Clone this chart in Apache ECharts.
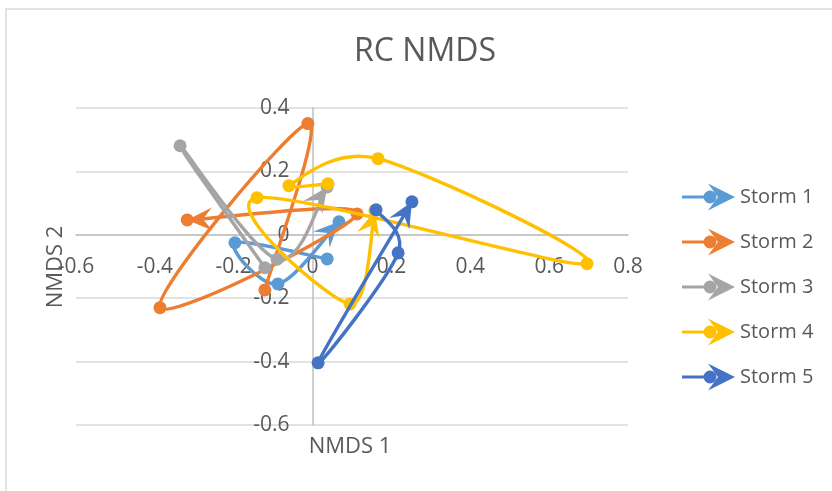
<!DOCTYPE html>
<html>
<head>
<meta charset="utf-8">
<title>RC NMDS</title>
<script src="https://cdn.jsdelivr.net/npm/echarts@6/dist/echarts.min.js"></script>
<style>
  html, body { margin: 0; padding: 0; background: #ffffff; }
  #chart { width: 832px; height: 491px; }
</style>
</head>
<body>
<div id="chart"></div>
<script>
// NMDS ordination scores per storm, [NMDS 1, NMDS 2], in sampling order
var storm1 = [[0.037, -0.076], [-0.197, -0.025], [-0.088, -0.155], [0.067, 0.041]];
var storm2 = [[-0.121, -0.174], [-0.012, 0.351], [-0.387, -0.230], [0.113, 0.066], [-0.318, 0.047]];
var storm3 = [[-0.121, -0.104], [-0.336, 0.281], [-0.090, -0.077], [0.037, 0.151]];
var storm4 = [[0.039, 0.161], [-0.060, 0.155], [0.166, 0.240], [0.696, -0.091], [-0.141, 0.117], [0.095, -0.218], [0.158, 0.076]];
var storm5 = [[0.161, 0.079], [0.217, -0.057], [0.014, -0.404], [0.252, 0.104]];

var seriesNames = ['Storm 1', 'Storm 2', 'Storm 3', 'Storm 4', 'Storm 5'];
var seriesData = [storm1, storm2, storm3, storm4, storm5];
var seriesColors = ['#5B9BD5', '#ED7D31', '#A5A5A5', '#FFC000', '#4472C4'];

var FONT = '"Open Sans", "Noto Sans", sans-serif';
var TEXT_COLOR = '#595959';
var GRID = { left: 76, right: 204, top: 108, bottom: 66 };

function dist(a, b) {
  var dx = a[0] - b[0], dy = a[1] - b[1];
  return Math.sqrt(dx * dx + dy * dy);
}

// Smoothed polyline (cardinal bezier with limited handles), end arrow and markers
function renderStorm(params, api) {
  if (params.dataIndex !== 0) return null;
  var n = params.dataInsideLength;
  var pts = [];
  for (var i = 0; i < n; i++) {
    pts.push(api.coord([api.value(0, i), api.value(1, i)]));
  }
  var color = api.visual('color');
  var children = [];
  for (var s = 0; s < n - 1; s++) {
    var p0 = pts[Math.max(s - 1, 0)], p1 = pts[s], p2 = pts[s + 1], p3 = pts[Math.min(s + 2, n - 1)];
    var d12 = dist(p1, p2), d02 = dist(p0, p2), d13 = dist(p1, p3);
    var f0 = d02 > 0 ? Math.min(1 / 6, d12 / (2 * d02)) : 0;
    var f3 = d13 > 0 ? Math.min(1 / 6, d12 / (2 * d13)) : 0;
    children.push({
      type: 'bezierCurve',
      shape: {
        x1: p1[0], y1: p1[1], x2: p2[0], y2: p2[1],
        cpx1: p1[0] + (p2[0] - p0[0]) * f0, cpy1: p1[1] + (p2[1] - p0[1]) * f0,
        cpx2: p2[0] - (p3[0] - p1[0]) * f3, cpy2: p2[1] - (p3[1] - p1[1]) * f3
      },
      style: { stroke: color, lineWidth: 3.4, fill: 'none', lineCap: 'round', lineJoin: 'round' },
      silent: true
    });
  }
  // arrow head at the last sample
  var tip = pts[n - 1], prev = pts[n - 2];
  var len = dist(tip, prev) || 1;
  var ux = (tip[0] - prev[0]) / len, uy = (tip[1] - prev[1]) / len;
  var vx = -uy, vy = ux;
  var L = 25, W = 11.5, N = 0.63 * L;
  children.push({
    type: 'polygon',
    shape: {
      points: [
        [tip[0], tip[1]],
        [tip[0] - ux * L + vx * W, tip[1] - uy * L + vy * W],
        [tip[0] - ux * N, tip[1] - uy * N],
        [tip[0] - ux * L - vx * W, tip[1] - uy * L - vy * W]
      ]
    },
    style: { fill: color },
    silent: true
  });
  for (var k = 0; k < n; k++) {
    children.push({
      type: 'circle',
      shape: { cx: pts[k][0], cy: pts[k][1], r: 6.5 },
      style: { fill: color },
      silent: true
    });
  }
  return { type: 'group', children: children };
}

// legend glyph: line, marker and arrow head
var legendIcon = 'path://M0,12 L22,12 L22,15 L0,15 Z ' +
  'M21.5,13.5 A6.5,6.5 0 1 1 34.5,13.5 A6.5,6.5 0 1 1 21.5,13.5 Z ' +
  'M26,0 L53,13.5 L26,27 L36,13.5 Z';

var series = seriesNames.map(function (name, i) {
  return {
    name: name,
    type: 'custom',
    coordinateSystem: 'cartesian2d',
    data: seriesData[i],
    encode: { x: 0, y: 1 },
    itemStyle: { color: seriesColors[i] },
    renderItem: renderStorm,
    clip: false,
    silent: true
  };
});

var chart = echarts.init(document.getElementById('chart'), null, { renderer: 'canvas' });
chart.setOption({
  animation: false,
  backgroundColor: '#ffffff',
  grid: { left: GRID.left, right: GRID.right, top: GRID.top, bottom: GRID.bottom, outerBoundsMode: 'none', containLabel: false },
  xAxis: {
    type: 'value',
    position: 'bottom',
    min: -0.6, max: 0.8, interval: 0.2,
    axisLine: { show: true, onZero: false, lineStyle: { color: '#bfbfbf', width: 1.5 } },
    axisTick: { show: false },
    splitLine: { show: false },
    axisLabel: { margin: 22, color: TEXT_COLOR, fontSize: 21, fontFamily: FONT }
  },
  yAxis: {
    type: 'value',
    position: 'left',
    min: -0.6, max: 0.4, interval: 0.2,
    axisLine: { show: true, onZero: false, lineStyle: { color: '#bfbfbf', width: 1.5 } },
    axisTick: { show: false },
    splitLine: { show: true, lineStyle: { color: '#d9d9d9', width: 1.5 } },
    axisLabel: { margin: 23, color: TEXT_COLOR, fontSize: 21, fontFamily: FONT }
  },
  legend: {
    orient: 'vertical',
    left: 682, top: 183.5, padding: 0,
    itemWidth: 53, itemHeight: 27, itemGap: 18,
    icon: legendIcon,
    selectedMode: false,
    data: seriesNames,
    textStyle: { color: TEXT_COLOR, fontSize: 20, fontFamily: FONT }
  },
  graphic: [
    {
      type: 'rect', silent: true, z: -10,
      shape: { x: 6, y: 9, width: 840, height: 500 },
      style: { fill: 'none', stroke: '#d9d9d9', lineWidth: 1.5 }
    },
    {
      type: 'text', x: 425, y: 52, silent: true,
      style: { text: 'RC NMDS', align: 'center', verticalAlign: 'middle', textAlign: 'center', textVerticalAlign: 'middle', fill: TEXT_COLOR, fontSize: 32, fontFamily: FONT }
    },
    {
      type: 'text', x: 350, y: 447, silent: true,
      style: { text: 'NMDS 1', align: 'center', verticalAlign: 'middle', textAlign: 'center', textVerticalAlign: 'middle', fill: TEXT_COLOR, fontSize: 22, fontFamily: FONT }
    },
    {
      type: 'text', x: 56, y: 267, rotation: Math.PI / 2, silent: true,
      style: { text: 'NMDS 2', align: 'center', verticalAlign: 'middle', textAlign: 'center', textVerticalAlign: 'middle', fill: TEXT_COLOR, fontSize: 22, fontFamily: FONT }
    }
  ],
  series: series
});

// Axes cross at the origin: shift both axes (line and labels) to the zero point
var origin = chart.convertToPixel({ gridIndex: 0 }, [0, 0]);
var gridBottom = chart.getHeight() - GRID.bottom;
chart.setOption({
  xAxis: { offset: -(gridBottom - origin[1]) },
  yAxis: { offset: -(origin[0] - GRID.left) }
});
</script>
</body>
</html>
